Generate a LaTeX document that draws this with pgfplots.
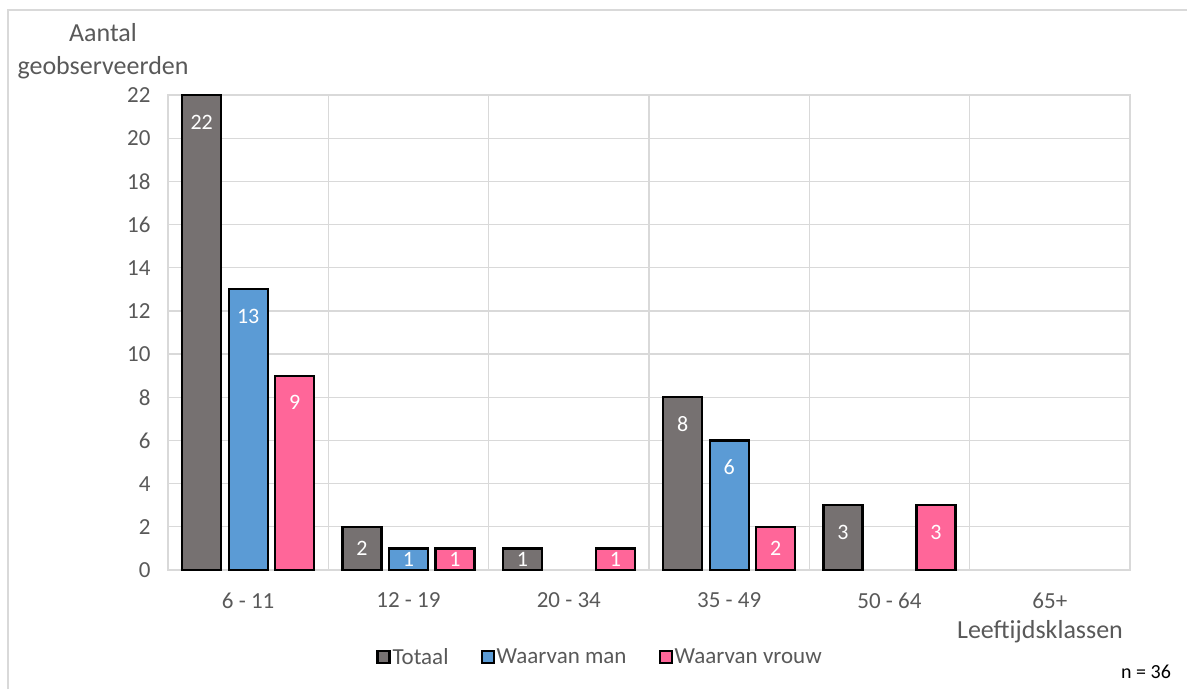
\documentclass[border=0pt]{standalone}
\usepackage{pgfplots}
\pgfplotsset{compat=1.18}
\usepackage{fontspec}
\setmainfont{Carlito}
\definecolor{cgray}{HTML}{767171}
\definecolor{cblue}{HTML}{5B9BD5}
\definecolor{cpink}{HTML}{FF6699}
\definecolor{cgrid}{HTML}{D9D9D9}
\definecolor{ctext}{HTML}{595959}
\begin{document}
\begin{tikzpicture}[x=1pt,y=1pt]
\useasboundingbox (-168,-119) rectangle (1019,570);
\draw[cgrid, line width=1.5pt] (-160,-119) -- (-160,560) -- (1019,560);
\begin{axis}[
  at={(0,0)}, anchor=south west,
  width=962pt, height=475pt, scale only axis,
  ybar, bar width=39pt,
  xmin=-0.5, xmax=5.5, ymin=0, ymax=22,
  xtick={0,1,2,3,4,5},
  xticklabels={6 - 11,12 - 19,20 - 34,35 - 49,50 - 64,65+},
  minor xtick={0.5,1.5,2.5,3.5,4.5},
  ytick={0,2,...,22},
  major x tick style={draw=none}, minor x tick style={draw=none},
  ytick style={draw=none},
  xmajorgrids=false, xminorgrids=true, ymajorgrids=true,
  grid style={cgrid, line width=1.2pt},
  minor grid style={cgrid, line width=1.2pt},
  axis line style={cgrid, line width=1.2pt},
  tick label style={font=\fontsize{23}{27}\selectfont, text=ctext},
  xticklabel style={yshift=-15pt},
  yticklabel style={xshift=-14pt},
  /pgf/number format/assume math mode=true,
  nodes near coords,
  visualization depends on=rawy \as \ry,
  every node near coord/.append style={font=\fontsize{22}{26}\selectfont, text=white, anchor=center, yshift={-min(27,\ry*10.8)}},
  legend style={at={(432pt,-87pt)}, anchor=center, draw=none, legend columns=3,
    font=\fontsize{23}{27}\selectfont, text=ctext, /tikz/every even column/.append style={column sep=30pt}},
  legend image code/.code={\draw[#1, line width=2.2pt, draw=black] (0pt,-6pt) rectangle (12pt,6pt);},
  clip=false,
]
\addplot[fill=cgray, draw=black, line width=2.2pt, bar shift=-46.5pt] coordinates {(0,22) (1,2) (2,1) (3,8) (4,3)};
\addplot[fill=cblue, draw=black, line width=2.2pt, bar shift=0pt] coordinates {(0,13) (1,1) (3,6)};
\addplot[fill=cpink, draw=black, line width=2.2pt, bar shift=46.5pt] coordinates {(0,9) (1,1) (2,1) (3,2) (4,3)};
\legend{Totaal,Waarvan man,Waarvan vrouw}
\end{axis}
\node[text=ctext, font=\fontsize{26}{30}\selectfont] at (-65,537) {Aantal};
\node[text=ctext, font=\fontsize{26}{30}\selectfont] at (-65,502) {geobserveerden};
\node[text=ctext, font=\fontsize{26}{30}\selectfont] at (872,-62) {Leeftijdsklassen};
\node[text=black, font=\fontsize{20}{24}\selectfont] at (978,-102) {n = 36};
\end{tikzpicture}
\end{document}
